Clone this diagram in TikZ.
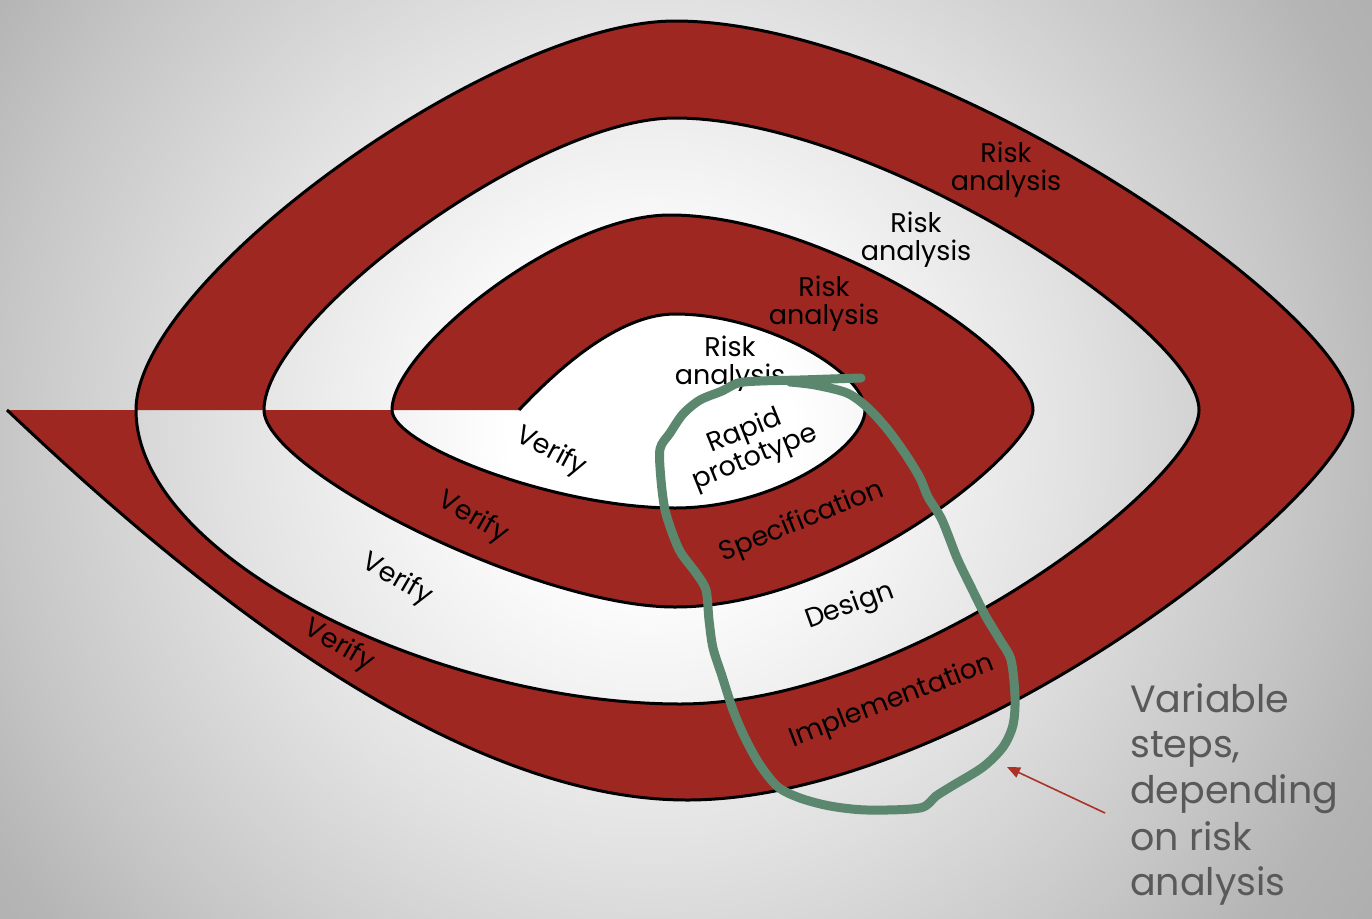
\documentclass[tikz,border=0pt]{standalone}
\usepackage{fontspec}
\setmainfont{Poppins}
\usetikzlibrary{arrows.meta}
\definecolor{spiralred}{RGB}{159,39,33}
\definecolor{loopgreen}{RGB}{91,135,110}
\definecolor{notegray}{RGB}{89,89,89}
\definecolor{arrowred}{RGB}{170,50,40}
\definecolor{bgB}{RGB}{226,226,226}
\definecolor{bgC}{RGB}{198,198,198}
\definecolor{bgD}{RGB}{181,181,181}
\definecolor{bgE}{RGB}{174,174,174}
\pgfdeclareradialshading{bgshade}{\pgfpoint{0bp}{0bp}}{color(0bp)=(white); color(4bp)=(white); color(12bp)=(bgB); color(18.5bp)=(bgC); color(22bp)=(bgD); color(25bp)=(bgE); color(50bp)=(bgE)}
\newcommand\lblfont{\fontsize{27}{28}\selectfont}
\newcommand\notefont{\fontsize{38}{46}\selectfont}
\begin{document}
\begin{tikzpicture}[x=1pt,y=-1pt,
  spiral/.style={line width=3pt, line join=round},
  lbl/.style={font=\lblfont, align=center, inner sep=0pt, text=black},
  note/.style={font=\notefont, text=notegray, inner sep=0pt, anchor=base west},
  loopline/.style={draw=loopgreen, line width=9pt, line cap=round, line join=round},
  pointer/.style={draw=arrowred, line width=1.6pt, -{Triangle[length=13pt,width=11pt]}}]
\useasboundingbox (0,0) rectangle (1372,918);
\begin{scope}
  \clip (0,0) rectangle (1372,918);
  \shade[shading=bgshade] (650,430) circle [radius=880pt];
\end{scope}
% red bands
\fill[spiralred, even odd rule]
 (392,410) .. controls (392,350) and (560,215) .. (670,215)
   .. controls (820,215) and (1033,350) .. (1033,410)
   .. controls (1033,450) and (845,607) .. (675,607)
   .. controls (535,607) and (264,470) .. (264,410) -- cycle
 (519,410) .. controls (569,357) and (625,314) .. (675,314)
   .. controls (765,314) and (865,372) .. (865,410)
   .. controls (865,447) and (775,508) .. (675,508)
   .. controls (555,508) and (392,445) .. (392,410) -- cycle;
\fill[spiralred, even odd rule]
 (136,410) .. controls (136,280) and (495,21) .. (675,21)
   .. controls (925,21) and (1353,310) .. (1353,410)
   .. controls (1353,490) and (967,800) .. (687,800)
   .. controls (437,800) and (157,552) .. (7,410) -- cycle
 (264,410) .. controls (264,320) and (535,118) .. (675,118)
   .. controls (875,118) and (1199,330) .. (1199,410)
   .. controls (1199,480) and (910,704) .. (680,704)
   .. controls (440,704) and (136,560) .. (136,410) -- cycle;
% spiral outline
\draw[spiral]
 (519,410) .. controls (569,357) and (625,314) .. (675,314)
   .. controls (765,314) and (865,372) .. (865,410)
   .. controls (865,447) and (775,508) .. (675,508)
   .. controls (555,508) and (392,445) .. (392,410)
   .. controls (392,350) and (560,215) .. (670,215)
   .. controls (820,215) and (1033,350) .. (1033,410)
   .. controls (1033,450) and (845,607) .. (675,607)
   .. controls (535,607) and (264,470) .. (264,410)
   .. controls (264,320) and (535,118) .. (675,118)
   .. controls (875,118) and (1199,330) .. (1199,410)
   .. controls (1199,480) and (910,704) .. (680,704)
   .. controls (440,704) and (136,560) .. (136,410)
   .. controls (136,280) and (495,21) .. (675,21)
   .. controls (925,21) and (1353,310) .. (1353,410)
   .. controls (1353,490) and (967,800) .. (687,800)
   .. controls (437,800) and (157,552) .. (7,410);
% labels
\node[lbl] (ra1) at (1006,170) {Risk\\analysis};
\node[lbl] (ra2) at (916,240) {Risk\\analysis};
\node[lbl] (ra3) at (824,304) {Risk\\analysis};
\node[lbl] (ra4) at (730,364) {Risk\\analysis};
\node[lbl, rotate=-28] (v1) at (551,452) {Verify};
\node[lbl, rotate=-30] (v2) at (473,518) {Verify};
\node[lbl, rotate=-30] (v3) at (397,580) {Verify};
\node[lbl, rotate=-30] (v4) at (339,646) {Verify};
\node[lbl, rotate=22] (rp) at (750,445) {Rapid\\prototype};
\node[lbl, rotate=22] (spec) at (802,522) {Specification};
\node[lbl, rotate=20] (des) at (850,607) {Design};
\node[lbl, rotate=21] (impl) at (892,702) {Implementation};
% note
\node[note] (n1) at (1130,712) {Variable};
\node[note] (n2) at (1130,757) {steps,};
\node[note] (n3) at (1130,803) {depending};
\node[note] (n4) at (1130,850) {on risk};
\node[note] (n5) at (1130,895) {analysis};
\coordinate (arrtail) at (1105,813);
\coordinate (arrhead) at (1007,767);
\draw[pointer] (arrtail) -- (arrhead);
% green loop
\draw[loopline] plot[smooth, tension=0.5] coordinates {
 (861,378) (830,379) (800,380) (760,381) (738,383) (722,391) (700,400) (683,414)
 (670,433) (660,449) (661,480) (665,510) (673,535) (681,553) (696,573) (706,590)
 (709,620) (713,648) (722,676) (733,710) (745,738) (760,765) (778,787) (800,798)
 (830,806) (867,810) (920,808) (936,796) (952,786) (983,767) (1003,747) (1013,725)
 (1015,697) (1011,660) (1000,640) (985,615) (970,585) (957,558) (942,520) (928,497)
 (920,478) (906,455) (888,430) (868,408) (847,393) (815,385) (790,382)};
\end{tikzpicture}
\end{document}
